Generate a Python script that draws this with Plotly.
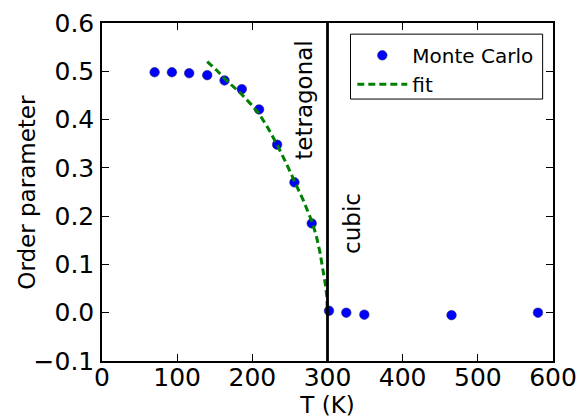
import plotly.graph_objects as go

# Monte Carlo data
T_mc = [70, 93, 116, 140, 163, 186, 209, 233, 256, 279, 302, 325, 349, 465, 580]
op_mc = [0.498, 0.498, 0.496, 0.492, 0.481, 0.463, 0.421, 0.348, 0.270, 0.185,
         0.004, 0.000, -0.004, -0.005, 0.000]

# fit curve
T_fit = [140, 152, 163, 175, 186, 198, 209, 221, 233, 244, 256, 268, 279, 285, 290, 294, 297, 299, 300]
op_fit = [0.520, 0.503, 0.485, 0.468, 0.452, 0.432, 0.412, 0.382, 0.348, 0.313, 0.272, 0.232,
          0.190, 0.160, 0.125, 0.092, 0.060, 0.035, 0.0]

T_c = 300

font = "DejaVu Sans"

fig = go.Figure()
fig.add_trace(go.Scatter(x=T_mc, y=op_mc, mode="markers", name="Monte Carlo",
                         marker=dict(color="#0000ff", size=9.5,
                                     line=dict(color="#222266", width=0.6))))
fig.add_trace(go.Scatter(x=T_fit, y=op_fit, mode="lines", name="fit",
                         line=dict(color="#008000", width=3, dash="7px,4px")))

fig.add_vline(x=T_c, line=dict(color="black", width=2.8))

fig.add_annotation(x=T_c, y=0.44, xref="x", yref="y", text="tetragonal", textangle=-90,
                   showarrow=False, xanchor="right", xshift=-8,
                   font=dict(family=font, size=23, color="black"))
fig.add_annotation(x=T_c, y=0.185, xref="x", yref="y", text="cubic", textangle=-90,
                   showarrow=False, xanchor="left", xshift=10,
                   font=dict(family=font, size=23, color="black"))

# y axis title, placed like matplotlib does it
fig.add_annotation(x=-0.167, y=0.5, xref="paper", yref="paper", text="Order parameter",
                   textangle=-90, showarrow=False, xanchor="center", yanchor="middle",
                   font=dict(family=font, size=23, color="black"))

# legend frame (matplotlib style box)
fig.add_shape(type="rect", xref="paper", yref="paper", x0=0.551, x1=0.977, y0=0.775, y1=0.967,
              line=dict(color="black", width=1), fillcolor="white", layer="below")

axis = dict(showline=True, linecolor="black", linewidth=1.5, mirror="ticks",
            ticks="inside", ticklen=7, tickwidth=1, tickcolor="black",
            showgrid=False, zeroline=False, automargin=False,
            tickfont=dict(family=font, size=25, color="black"))

fig.update_xaxes(range=[0, 600], dtick=100, tick0=0, ticklabelstandoff=-7,
                 title=dict(text="T (K)", font=dict(family=font, size=23, color="black"), standoff=0),
                 **axis)
fig.update_yaxes(range=[-0.1, 0.6], dtick=0.1, tick0=0, tickformat=".1f", ticklabelstandoff=1,
                 **axis)

fig.update_layout(
    width=577, height=418,
    margin=dict(l=102, r=24, t=23, b=57),
    paper_bgcolor="white", plot_bgcolor="white",
    showlegend=True,
    legend=dict(x=0.555, y=0.962, xanchor="left", yanchor="top",
                borderwidth=0, bgcolor="rgba(0,0,0,0)",
                font=dict(family=font, size=20, color="black"),
                itemwidth=50, tracegroupgap=0),
)

# drop the default page margin so the figure sits at the window's corner
fig.write_html("out.html", config={"displayModeBar": False},
               post_script="document.body.style.margin='0';")
